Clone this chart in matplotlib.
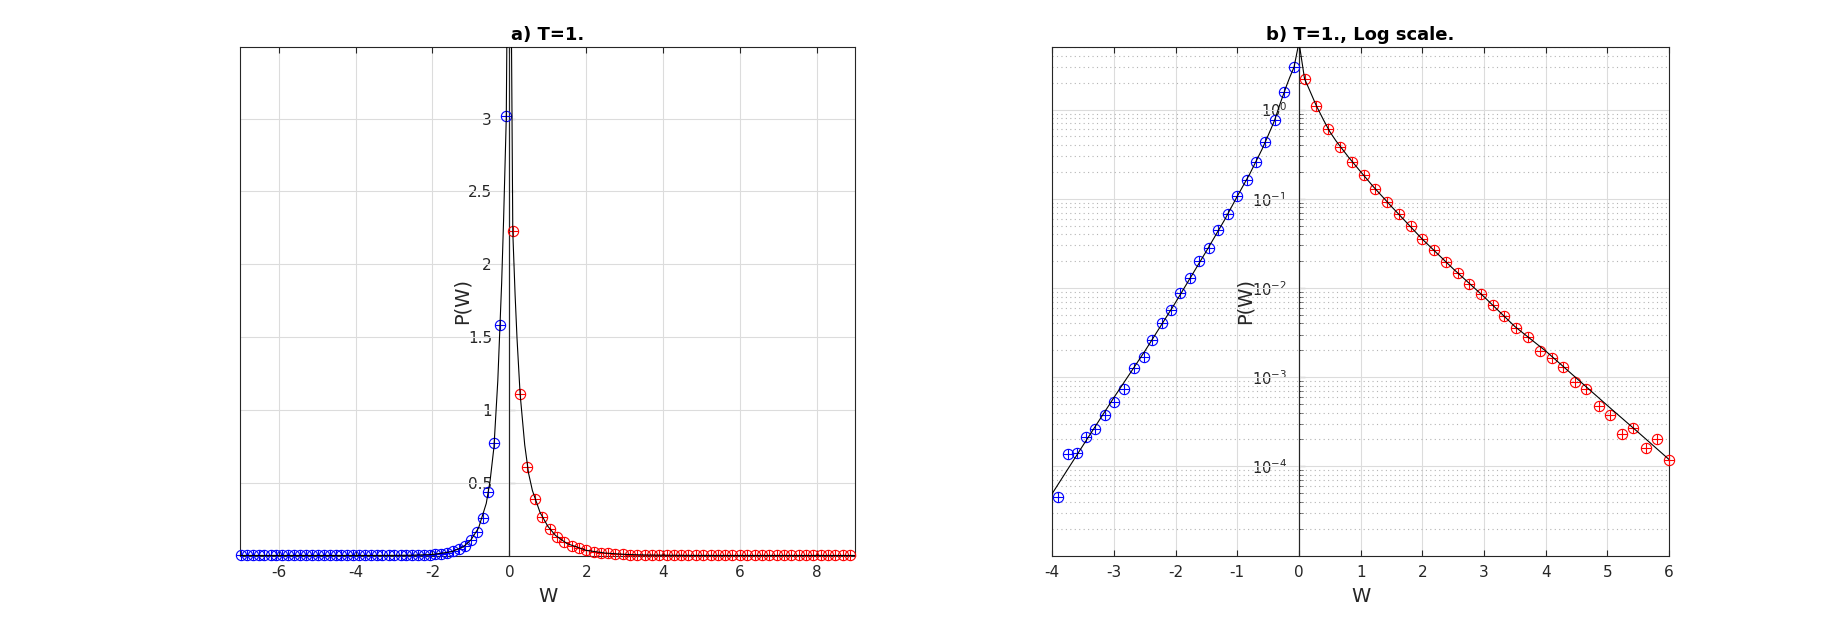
import numpy as np
import matplotlib
matplotlib.use('Agg')
import matplotlib.pyplot as plt
from matplotlib.ticker import FixedLocator, NullFormatter

plt.rcParams['font.family'] = ['DejaVu Sans']
plt.rcParams['axes.unicode_minus'] = False

# ---- data ----
# negative-W histogram (blue)
neg_W = [-0.08, -0.24, -0.39, -0.545, -0.69, -0.85, -1.0, -1.15, -1.31, -1.46,
         -1.62, -1.77, -1.93, -2.07, -2.22, -2.38, -2.52, -2.68, -2.83, -3.0,
         -3.14, -3.30, -3.45, -3.59, -3.75, -3.90, -4.06, -4.21, -4.37, -4.52,
         -4.67, -4.83, -4.98, -5.14, -5.29, -5.44, -5.60, -5.75, -5.91, -6.06,
         -6.21, -6.37, -6.52, -6.68, -6.83, -6.99]
neg_P = [3.02, 1.58, 0.77, 0.435, 0.26, 0.163, 0.107, 0.067, 0.0445, 0.0284,
         0.0202, 0.0131, 0.0088, 0.00573, 0.0041, 0.00259, 0.0017, 0.00126, 0.00073, 0.00052,
         0.00038, 0.00026, 0.000216, 0.000142, 0.000136, 4.54e-5, 3.0e-5, 2.2e-5, 1.6e-5, 1.2e-5,
         9e-6, 7e-6, 5e-6, 4e-6, 3e-6, 2.5e-6, 2e-6, 1.5e-6, 1.2e-6, 1e-6,
         8e-7, 6e-7, 5e-7, 4e-7, 3e-7, 2e-7]
# positive-W histogram (red)
pos_W = [0.09, 0.28, 0.47, 0.66, 0.86, 1.05, 1.24, 1.43, 1.62, 1.81,
         1.99, 2.19, 2.38, 2.57, 2.76, 2.95, 3.15, 3.33, 3.52, 3.71,
         3.90, 4.10, 4.28, 4.47, 4.66, 4.86, 5.04, 5.24, 5.42, 5.62,
         5.80, 6.00, 6.19, 6.38, 6.57, 6.76, 6.95, 7.14, 7.33, 7.53,
         7.72, 7.91, 8.10, 8.29, 8.48, 8.67, 8.86]
pos_P = [2.23, 1.11, 0.607, 0.386, 0.262, 0.183, 0.128, 0.0914, 0.0676, 0.0493,
         0.0358, 0.0268, 0.0198, 0.0147, 0.0112, 0.00857, 0.0064, 0.0049, 0.00357, 0.00284,
         0.00198, 0.00164, 0.00131, 0.00089, 0.000745, 0.000472, 0.000372, 0.000229, 0.000267, 0.000162,
         0.0002, 0.000119, 9e-5, 7e-5, 6e-5, 4e-5, 3.5e-5, 2.5e-5, 2e-5, 1.5e-5,
         1.2e-5, 1e-5, 8e-6, 6e-6, 5e-6, 4e-6, 3e-6]
# theoretical curve (black)
curve_W = [-7.0, -6.0, -5.0, -4.5, -4.0, -3.5, -3.0, -2.5, -2.0, -1.5,
           -1.2, -1.0, -0.8, -0.6, -0.5, -0.4, -0.3, -0.2, -0.15, -0.08,
           0.0, 0.09, 0.15, 0.2, 0.28, 0.4, 0.5, 0.6, 0.8, 1.0,
           1.2, 1.5, 2.0, 2.5, 3.0, 3.5, 4.0, 4.5, 5.0, 5.5,
           6.0, 7.0, 8.0, 9.0]
curve_P = [4e-8, 4.2e-7, 4.5e-6, 1.5e-5, 4.95e-5, 1.72e-4, 5.9e-4, 1.95e-3, 6.9e-3, 0.026,
           0.059, 0.107, 0.189, 0.358, 0.514, 0.745, 1.20, 1.87, 2.3, 3.0,
           5.7, 2.22, 1.79, 1.49, 1.11, 0.76, 0.565, 0.446, 0.295, 0.201,
           0.138, 0.0818, 0.0352, 0.0164, 0.00796, 0.00369, 1.96e-3, 9.7e-4, 4.8e-4, 2.4e-4,
           1.19e-4, 3.1e-5, 7.9e-6, 2.1e-6]

lin_xticks = [-6, -4, -2, 0, 2, 4, 6, 8]
lin_yticks = [0.5, 1, 1.5, 2, 2.5, 3]
lin_yticklabels = ['0.5', '1', '1.5', '2', '2.5', '3']
log_xticks = [-4, -3, -2, -1, 0, 1, 2, 3, 4, 5, 6]
log_yticks = [1e-4, 1e-3, 1e-2, 1e-1, 1e0]

title_a = 'a) T=1.'
title_b = 'b) T=1., Log scale.'
ylabel_txt = 'P(W)'
xlabel_txt = 'W'

TXT = '#262626'
GRID = '#dcdcdc'

fig = plt.figure(figsize=(18.45, 6.25), dpi=100)
ax1 = fig.add_axes([0.1302, 0.1112, 0.3334, 0.8131])
ax2 = fig.add_axes([0.5703, 0.1112, 0.3344, 0.8131])


def draw(ax, xlim, ylim, xticks, yticks, yticklabels, log, title, ylab_x,
         ysize, ypad):
    if log:
        ax.set_yscale('log')
    ax.set_xlim(*xlim)
    ax.set_ylim(*ylim)
    ax.set_axisbelow(True)
    ax.set_xticks(xticks)
    if not log:
        ax.yaxis.set_major_locator(FixedLocator(yticks))
    ax.grid(True, which='major', color=GRID, lw=0.8, ls='-')
    if log:
        ax.grid(True, which='minor', axis='y', color='#b4b4b4', lw=0.8, ls=(0, (1, 3)))

    for W, P, c in [(neg_W, neg_P, '#0000ff'), (pos_W, pos_P, '#ff0000')]:
        W = np.asarray(W)
        P = np.asarray(P)
        m = (W >= xlim[0] - 1e-9) & (W <= xlim[1] + 1e-9) & (P >= ylim[0]) & (P <= ylim[1])
        ax.plot(W[m], P[m], ls='none', marker='o', ms=7.4, mfc='none', mec=c,
                mew=0.8, clip_on=False, zorder=3)
        ax.plot(W[m], P[m], ls='none', marker='+', ms=7.4, mec=c,
                mew=0.8, clip_on=False, zorder=3)
    ax.plot(curve_W, curve_P, color='black', lw=0.8, zorder=4)
    # y axis line at the origin
    ax.axvline(0, color=TXT, lw=0.8, zorder=2.5)

    for s in ax.spines.values():
        s.set_color(TXT)
        s.set_linewidth(0.8)
    ax.tick_params(axis='x', which='both', direction='in', top=True, bottom=True,
                   length=4.5, width=0.8, color=TXT, labelsize=11, pad=7,
                   labelcolor=TXT)
    ax.tick_params(axis='y', which='both', left=False, right=False,
                   labelleft=False, labelright=False)

    loc = (0 - xlim[0]) / (xlim[1] - xlim[0])
    sec = ax.secondary_yaxis(loc)
    sec.set_yticks(yticks)
    if yticklabels is not None:
        sec.set_yticklabels(yticklabels)
    if log:
        sec.yaxis.set_minor_formatter(NullFormatter())
    sec.tick_params(axis='y', which='major', direction='in', length=4.5, width=0.8,
                    color=TXT, labelsize=ysize, pad=ypad, labelcolor=TXT)
    sec.tick_params(axis='y', which='minor', direction='in', length=3, width=0.6,
                    color=TXT)
    for s in sec.spines.values():
        s.set_color(TXT)
        s.set_linewidth(0.8)

    ax.set_ylabel(ylabel_txt, fontsize=14, color=TXT)
    ax.yaxis.set_label_coords(ylab_x, 0.5)
    ax.set_xlabel(xlabel_txt, fontsize=14, labelpad=5, color=TXT)
    ax.set_title(title, fontsize=13, fontweight='bold', pad=5, color='black')


draw(ax1, (-7, 9), (0, 3.49), lin_xticks, lin_yticks, lin_yticklabels, False,
     title_a, 0.3755, 11, 12.5)
draw(ax2, (-4, 6), (1e-5, 5), log_xticks, log_yticks, None, True,
     title_b, 0.3279, 10.5, 8.5)

fig.savefig('out.png', dpi=100, facecolor='white')
